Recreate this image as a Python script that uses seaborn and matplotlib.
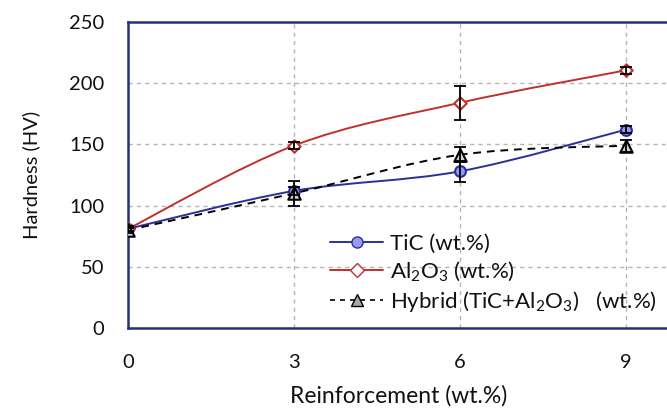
import numpy as np
import matplotlib
matplotlib.use("Agg")
import matplotlib.pyplot as plt
from matplotlib.path import Path
from matplotlib.patches import PathPatch
from matplotlib.lines import Line2D
from matplotlib.ticker import MultipleLocator
import seaborn as sns

# ---- data ----
reinforcement = [0, 3, 6, 9]
tic = [81, 112, 128, 162]
tic_err = [2, 3, 8.5, 3]
al2o3 = [81, 149, 184, 210.5]
al2o3_err = [2, 3, 14, 3]
hybrid = [80, 110, 141.5, 149]
hybrid_err = [2, 10, 6, 5]
labels = ["TiC (wt.%)", "Al$_2$O$_3$ (wt.%)", "Hybrid (TiC+Al$_2$O$_3$)   (wt.%)"]
xticks = [0, 3, 6, 9]
yticks = [0, 50, 100, 150, 200, 250]

sns.set_theme(style="white")
plt.rcParams["font.family"] = ["Lato", "DejaVu Sans"]
plt.rcParams["mathtext.default"] = "regular"

NAVY = "#23337a"
BLUE = "#2b2f9a"
RED = "#c0302c"

fig = plt.figure(figsize=(6.67, 4.09), dpi=100)
ax = fig.add_axes([128 / 667, 81 / 409, 1 - 128 / 667 + 0.002, 306 / 409])


def smooth_path(xs, ys):
    pts = np.column_stack([xs, ys]).astype(float)
    n = len(pts)
    verts = [pts[0]]
    codes = [Path.MOVETO]
    for i in range(n - 1):
        p0 = pts[max(i - 1, 0)]
        p1 = pts[i]
        p2 = pts[i + 1]
        p3 = pts[min(i + 2, n - 1)]
        c1 = p1 + (p2 - p0) / 6.0
        c2 = p2 - (p3 - p1) / 6.0
        verts += [c1, c2, p2]
        codes += [Path.CURVE4] * 3
    return Path(verts, codes)


series = [
    (tic, tic_err, BLUE, "-", "o", "#9a9aec", BLUE, 60),
    (al2o3, al2o3_err, RED, "-", "D", "white", RED, 40),
    (hybrid, hybrid_err, "black", (0, (4, 3)), "^", "#d0d0d0", "black", 80),
]

for ys, errs, col, ls, mk, fc, ec, s in series:
    ax.add_patch(PathPatch(smooth_path(reinforcement, ys), fill=False,
                           edgecolor=col, lw=1.4, linestyle=ls, zorder=3))

for ys, errs, col, ls, mk, fc, ec, s in series:
    sns.scatterplot(x=reinforcement, y=ys, marker=mk, s=s, facecolor=fc,
                    edgecolor=ec, linewidth=1.5, ax=ax, zorder=4, legend=False)
    ax.errorbar(reinforcement, ys, yerr=errs, fmt="none", ecolor="black",
                elinewidth=1.3, capsize=4, capthick=1.3, zorder=5)

ax.set_xlim(0, 9.77)
ax.set_ylim(0, 250)
ax.set_xticks(xticks)
ax.set_yticks(yticks)
ax.xaxis.set_minor_locator(MultipleLocator(0.5))
ax.yaxis.set_minor_locator(MultipleLocator(10))
ax.tick_params(axis="both", which="both", direction="in", color=NAVY,
               width=1.3, length=6, labelsize=14.5, labelcolor="#111111")
ax.tick_params(axis="y", which="both", pad=17)
ax.tick_params(axis="x", which="both", pad=19)

ax.grid(True, which="major", color="#b5b5b5", linestyle=(0, (3, 3)), lw=1.0)
ax.set_axisbelow(True)

for side in ["left", "bottom", "top"]:
    ax.spines[side].set_color(NAVY)
    ax.spines[side].set_linewidth(1.8)
ax.spines["right"].set_visible(False)

ax.set_xlabel("Reinforcement (wt.%)", fontsize=16.5, color="#111111", labelpad=10)
ax.set_ylabel("Hardness (HV)", fontsize=14.5, color="#111111", labelpad=21)

handles = [
    Line2D([], [], color=BLUE, lw=1.4, marker="o", markersize=8,
           markerfacecolor="#9a9aec", markeredgecolor=BLUE),
    Line2D([], [], color=RED, lw=1.4, marker="D", markersize=7,
           markerfacecolor="white", markeredgecolor=RED),
    Line2D([], [], color="black", lw=1.2, linestyle=(0, (3, 3)), marker="^",
           markersize=9, markerfacecolor="#a8a8a8", markeredgecolor="black"),
]
leg = fig.legend(handles, labels, loc="upper left",
                 bbox_to_anchor=(330 / 667, 1 - 234 / 409), frameon=False,
                 fontsize=16, handlelength=2.4, handletextpad=0.3,
                 labelspacing=0.25, borderpad=0, borderaxespad=0)
for t in leg.get_texts():
    t.set_color("#111111")

fig.savefig("out.png", dpi=100)
